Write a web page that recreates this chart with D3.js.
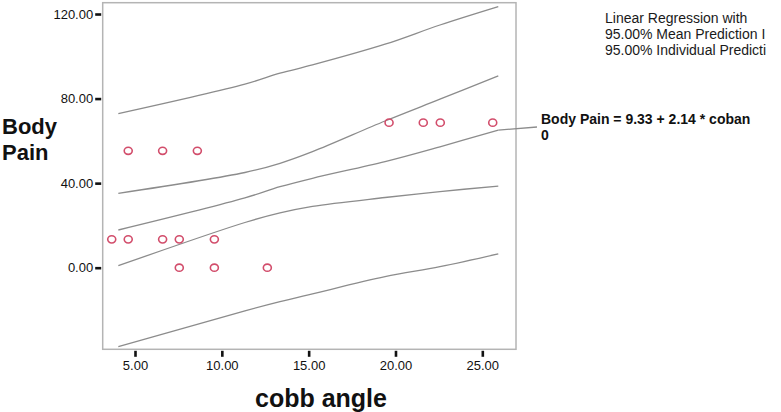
<!DOCTYPE html>
<html>
<head>
<meta charset="utf-8">
<script src="https://cdn.jsdelivr.net/npm/d3@7"></script>
<style>
  html, body { margin: 0; padding: 0; background: #fff; }
  svg { display: block; font-family: "Liberation Sans", Arial, sans-serif; }
</style>
</head>
<body>
<svg id="chart" width="781" height="412"></svg>
<script>
// ---- data ----
const xTicks = [5, 10, 15, 20, 25];
const yTicks = [0, 40, 80, 120];
const pointsX = [4.61, 6.59, 8.59, 3.66, 4.61, 6.59, 7.55, 9.57, 7.55, 9.57, 12.62, 19.63, 21.60, 22.58, 25.60];
const pointsY = [55.3, 55.3, 55.3, 13.4, 13.4, 13.4, 13.4, 13.4, 0, 0, 0, 68.6, 68.6, 68.6, 68.6];
const curveX     = [4.04, 11.33, 13.35, 15.22, 19.40, 22.56, 25.92];
const fitLine    = [17.83, 33.0, 38.3, 42.3, 50.2, 57.2, 65.1];
const meanUpper  = [35.19, 45.03, 49.4, 54.9, 69.4, 79.7, 90.7];
const meanLower  = [0.95, 21.38, 25.9, 29.0, 33.2, 36.0, 38.6];
const indivUpper = [72.85, 86.8, 92.0, 95.9, 105.7, 114.8, 123.5];
const indivLower = [-37.37, -20.43, -16.1, -12.4, -4.26, 0.47, 6.5];
const legendLines = ["Linear Regression with", "95.00% Mean Prediction I", "95.00% Individual Predicti"];
const equationLines = ["Body Pain = 9.33 + 2.14 * coban", "0"];
const xTitle = "cobb angle";
const yTitleLines = ["Body", "Pain"];

// ---- layout ----
const frame = { left: 102.7, right: 516, top: 2.7, bottom: 349.3 };
const svg = d3.select("#chart");

const x = d3.scaleLinear().domain([3.14, 26.94]).range([frame.left, frame.right]);
const y = d3.scaleLinear().domain([-38.6, 125.35]).range([frame.bottom, frame.top]);

// frame
svg.append("rect")
  .attr("x", frame.left).attr("y", frame.top)
  .attr("width", frame.right - frame.left).attr("height", frame.bottom - frame.top)
  .attr("fill", "none").attr("stroke", "#b4b4b4").attr("stroke-width", 1.5);

// x axis
const xAxis = d3.axisBottom(x).tickValues(xTicks).tickFormat(d3.format(".2f"))
  .tickSize(6).tickPadding(4);
const gx = svg.append("g").attr("transform", `translate(0,${frame.bottom + 1.5})`).call(xAxis);
gx.select(".domain").remove();
gx.selectAll(".tick line").attr("stroke", "#111").attr("stroke-width", 2.6);
gx.selectAll(".tick text").attr("fill", "#111").style("font-size", "13px")
  .style("font-family", '"Liberation Sans", Arial, sans-serif');

// y axis
const yAxis = d3.axisLeft(y).tickValues(yTicks).tickFormat(d3.format(".2f"))
  .tickSize(6).tickPadding(2);
const gy = svg.append("g").attr("transform", `translate(${frame.left - 1.5},0)`).call(yAxis);
gy.select(".domain").remove();
gy.selectAll(".tick line").attr("stroke", "#111").attr("stroke-width", 2.6);
gy.selectAll(".tick text").attr("fill", "#111").style("font-size", "13px")
  .style("font-family", '"Liberation Sans", Arial, sans-serif');

// curves
const line = d3.line().x(d => x(d[0])).y(d => y(d[1])).curve(d3.curveCatmullRom.alpha(0.5));
[indivUpper, meanUpper, fitLine, meanLower, indivLower].forEach(series => {
  svg.append("path")
    .datum(curveX.map((cx, i) => [cx, series[i]]))
    .attr("d", line)
    .attr("fill", "none")
    .attr("stroke", "#8c8c8c")
    .attr("stroke-width", 1.3);
});

// leader line from the fit line end to the equation label
const lastI = curveX.length - 1;
svg.append("line")
  .attr("x1", x(curveX[lastI])).attr("y1", y(fitLine[lastI]))
  .attr("x2", 537).attr("y2", 127)
  .attr("stroke", "#8c8c8c").attr("stroke-width", 1.3);

// points
svg.append("g").selectAll("ellipse")
  .data(pointsX.map((px, i) => [px, pointsY[i]]))
  .join("ellipse")
  .attr("cx", d => x(d[0])).attr("cy", d => y(d[1]))
  .attr("rx", 4).attr("ry", 3.6)
  .attr("fill", "none").attr("stroke", "#d24d6b").attr("stroke-width", 1.6);

// equation label
svg.append("g").selectAll("text").data(equationLines).join("text")
  .attr("x", 541).attr("y", (d, i) => 124 + i * 15.5)
  .attr("font-size", 14).attr("font-weight", "bold").attr("fill", "#111")
  .text(d => d);

// legend text
svg.append("g").selectAll("text").data(legendLines).join("text")
  .attr("x", 605).attr("y", (d, i) => 23 + i * 16)
  .attr("font-size", 14).attr("fill", "#1a1a1a")
  .text(d => d);

// axis titles
svg.append("text")
  .attr("x", 321).attr("y", 407)
  .attr("text-anchor", "middle")
  .attr("font-size", 25).attr("font-weight", "bold").attr("fill", "#111")
  .text(xTitle);

svg.append("g").selectAll("text").data(yTitleLines).join("text")
  .attr("x", 2).attr("y", (d, i) => 134 + i * 25.5)
  .attr("font-size", 22).attr("font-weight", "bold").attr("fill", "#111")
  .text(d => d);
</script>
</body>
</html>
